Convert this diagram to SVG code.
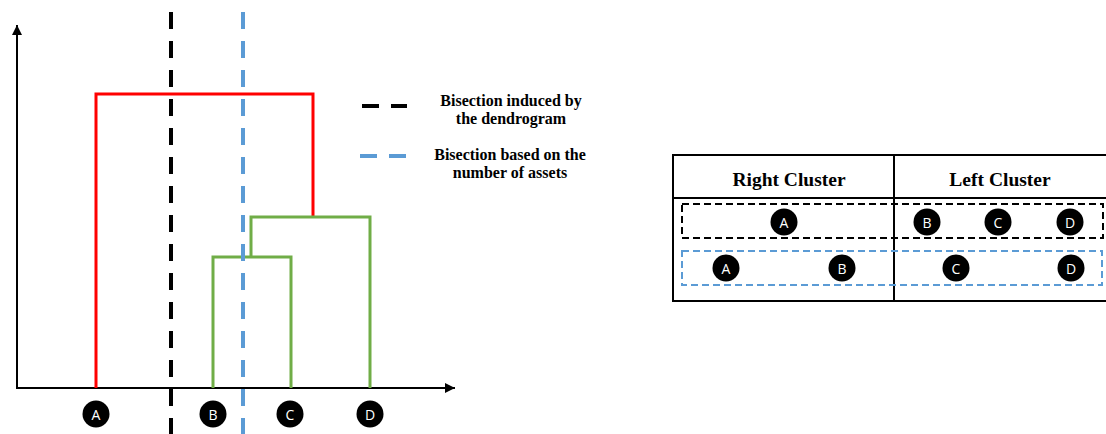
<svg xmlns="http://www.w3.org/2000/svg" width="1106" height="434" viewBox="0 0 1106 434">
<defs>
<marker id="arr" viewBox="0 0 10 10" refX="10" refY="5" markerWidth="10" markerHeight="10" markerUnits="userSpaceOnUse" orient="auto">
<path d="M0,0 L10,5 L0,10 Z" fill="#000"/>
</marker>
<style>
.axis{stroke:#000;stroke-width:2;fill:none}
.red{stroke:#ff0000;stroke-width:3;fill:none}
.green{stroke:#70ad47;stroke-width:3;fill:none}
.bdash{stroke:#000;stroke-width:4;stroke-dasharray:17 12;fill:none}
.ldash{stroke:#5b9bd5;stroke-width:4;stroke-dasharray:17 12;fill:none}
.node circle{fill:#000}
.node text{fill:#fff;font-family:"Open Sans","DejaVu Sans",sans-serif;font-size:14px;text-anchor:middle;dominant-baseline:central}
.leg{font-family:"Liberation Serif",serif;font-weight:bold;font-size:16px;text-anchor:middle;fill:#000}
.hdr{font-family:"Liberation Serif",serif;font-weight:bold;font-size:19.5px;text-anchor:middle;fill:#000}
.tbl{stroke:#000;stroke-width:2;fill:none}
.rb{stroke:#000;stroke-width:2;stroke-dasharray:7 4;fill:none}
.rl{stroke:#5b9bd5;stroke-width:2;stroke-dasharray:7 4;fill:none}
</style>
</defs>

<g id="connectors">
<line class="axis" x1="17" y1="389" x2="17" y2="25" marker-end="url(#arr)"/>
<line class="axis" x1="16" y1="388" x2="455" y2="388" marker-end="url(#arr)"/>
<path class="red" d="M96,388 V94 H313 V216"/>
<path class="green" d="M251,257 V217 H370 V388"/>
<path class="green" d="M213,388 V257 H291 V388"/>
<line class="bdash" x1="171" y1="12" x2="171" y2="434"/>
<line class="ldash" x1="243" y1="12" x2="243" y2="434"/>
</g>

<g id="legend">
<line class="bdash" x1="362" y1="106" x2="407" y2="106"/>
<text class="leg" x="511" y="106">Bisection induced by</text>
<text class="leg" x="511" y="124">the dendrogram</text>
<line class="ldash" x1="360" y1="156" x2="406" y2="156"/>
<text class="leg" x="510" y="160">Bisection based on the</text>
<text class="leg" x="510" y="178">number of assets</text>
</g>

<g id="node-A" class="node"><circle cx="96" cy="414" r="13.5"/><text x="96" y="414">A</text></g>
<g id="node-B" class="node"><circle cx="213" cy="414" r="13.5"/><text x="213" y="414">B</text></g>
<g id="node-C" class="node"><circle cx="290" cy="414" r="13.5"/><text x="290" y="414">C</text></g>
<g id="node-D" class="node"><circle cx="370" cy="414" r="13.5"/><text x="370" y="414">D</text></g>

<g id="table">
<path class="tbl" d="M1107,155 H673 V301 H1107"/>
<line class="tbl" x1="673" y1="198" x2="1107" y2="198"/>
<line class="tbl" x1="894" y1="155" x2="894" y2="301"/>
<text class="hdr" x="789" y="186">Right Cluster</text>
<text class="hdr" x="1000" y="186">Left Cluster</text>
<rect class="rb" x="682" y="204" width="421" height="34"/>
<rect class="rl" x="682" y="251" width="420" height="34"/>
</g>

<g id="row1-A" class="node"><circle cx="784" cy="222" r="13.5"/><text x="784" y="222">A</text></g>
<g id="row1-B" class="node"><circle cx="927" cy="222" r="13.5"/><text x="927" y="222">B</text></g>
<g id="row1-C" class="node"><circle cx="998" cy="222" r="13.5"/><text x="998" y="222">C</text></g>
<g id="row1-D" class="node"><circle cx="1070" cy="222" r="13.5"/><text x="1070" y="222">D</text></g>
<g id="row2-A" class="node"><circle cx="726" cy="268" r="13.5"/><text x="726" y="268">A</text></g>
<g id="row2-B" class="node"><circle cx="842" cy="268" r="13.5"/><text x="842" y="268">B</text></g>
<g id="row2-C" class="node"><circle cx="956" cy="268" r="13.5"/><text x="956" y="268">C</text></g>
<g id="row2-D" class="node"><circle cx="1071" cy="268" r="13.5"/><text x="1071" y="268">D</text></g>
</svg>
